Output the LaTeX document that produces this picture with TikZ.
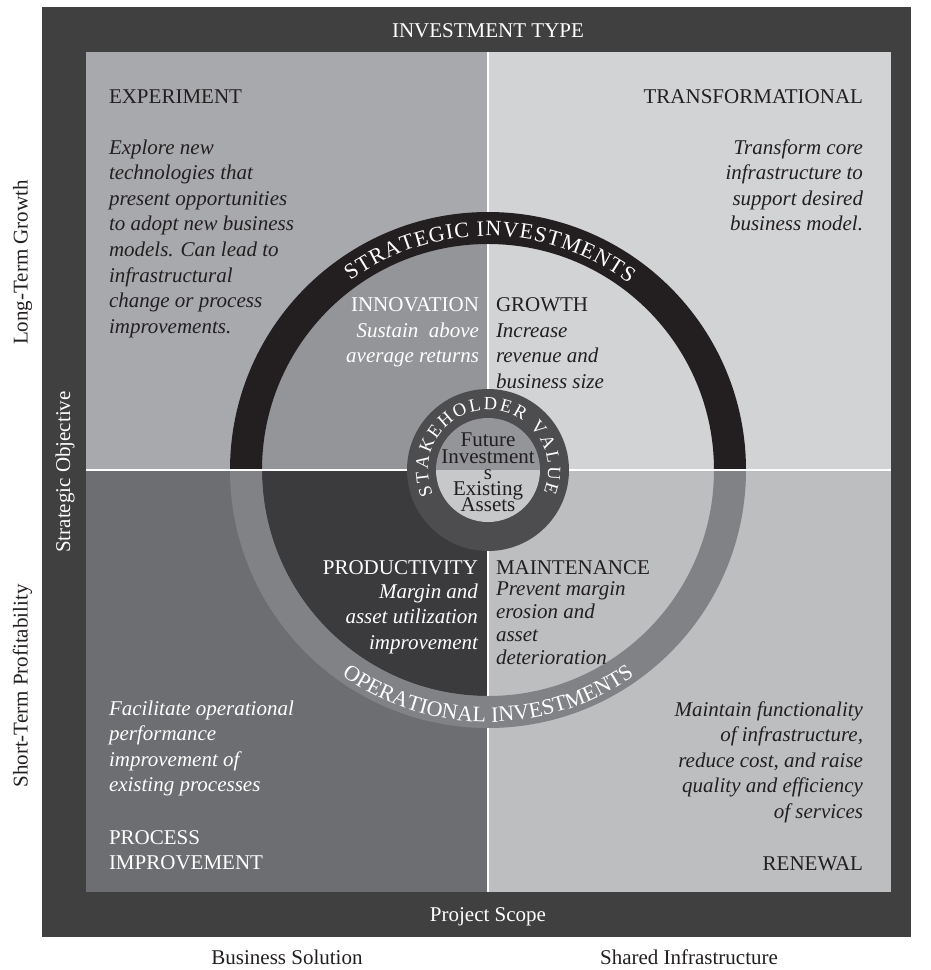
\documentclass[tikz,border=0pt]{standalone}
\usepackage{fontspec}
\setmainfont{Liberation Serif}
\usetikzlibrary{decorations.text}
\definecolor{frameC}{HTML}{404041}
\definecolor{expC}{HTML}{A7A9AC}
\definecolor{traC}{HTML}{D1D3D4}
\definecolor{proC}{HTML}{6D6E71}
\definecolor{renC}{HTML}{BCBEC0}
\definecolor{innC}{HTML}{939598}
\definecolor{groC}{HTML}{D1D3D4}
\definecolor{prdC}{HTML}{3B3B3D}
\definecolor{maiC}{HTML}{BCBEC0}
\definecolor{strC}{HTML}{231F20}
\definecolor{opsC}{HTML}{808285}
\definecolor{stkC}{HTML}{4D4D4F}
\definecolor{futC}{HTML}{939598}
\definecolor{exiC}{HTML}{C7C8CA}
\definecolor{inkC}{HTML}{231F20}
\newcommand\bodysize{\fontsize{21}{25.6}\selectfont}
\newcommand\ringA{\fontsize{22}{22}\selectfont}
\newcommand\ringB{\fontsize{18.5}{18.5}\selectfont}
\begin{document}
\begin{tikzpicture}[x=1pt, y=1pt,
  txt/.style={inner sep=0pt, outer sep=0pt, text=inkC, font=\bodysize},
  itx/.style={txt, font=\bodysize\itshape},
  wtx/.style={txt, text=white},
  witx/.style={itx, text=white},
  divider/.style={draw=white, line width=2.6pt}]
\useasboundingbox (0,0) rectangle (930,-970);
\fill[white] (0,0) rectangle (930,-970);
% frame
\fill[frameC] (42,-7) rectangle (911,-937);
% quadrants
\fill[expC] (86,-52) rectangle (488,-470);
\fill[traC] (488,-52) rectangle (891,-470);
\fill[proC] (86,-470) rectangle (488,-892);
\fill[renC] (488,-470) rectangle (891,-892);
\begin{scope}[shift={(488,-470)}]
  \fill[innC] (0,0) -- (180:226) arc[start angle=180, end angle=90, radius=226] -- cycle;
  \fill[groC] (0,0) -- (90:226) arc[start angle=90, end angle=0, radius=226] -- cycle;
  \fill[prdC] (0,0) -- (180:226) arc[start angle=180, end angle=270, radius=226] -- cycle;
  \fill[maiC] (0,0) -- (270:226) arc[start angle=270, end angle=360, radius=226] -- cycle;
  \fill[strC] (0:258) arc[start angle=0, end angle=180, radius=258] -- (180:226) arc[start angle=180, end angle=0, radius=226] -- cycle;
  \fill[opsC] (180:258) arc[start angle=180, end angle=360, radius=258] -- (0:226) arc[start angle=360, end angle=180, radius=226] -- cycle;
\end{scope}
% divider lines
\coordinate (v1) at (488,-52);  \coordinate (v2) at (488,-212);
\coordinate (v3) at (488,-244); \coordinate (v4) at (488,-389);
\coordinate (v5) at (488,-551); \coordinate (v6) at (488,-696);
\coordinate (v7) at (488,-728); \coordinate (v8) at (488,-892);
\coordinate (h1) at (86,-470);  \coordinate (h2) at (891,-470);
\draw[divider] (v1) -- (v2);
\draw[divider] (v3) -- (v4);
\draw[divider] (v5) -- (v6);
\draw[divider] (v7) -- (v8);
\draw[divider] (h1) -- (h2);
% stakeholder circle
\begin{scope}[shift={(488,-470)}]
  \fill[stkC] (0,0) circle[radius=81];
  \fill[futC] (180:52) arc[start angle=180, end angle=0, radius=52] -- cycle;
  \fill[exiC] (0:52) arc[start angle=0, end angle=-180, radius=52] -- cycle;
  \path[decorate, decoration={text along path, text={|\ringA|STRATEGIC INVESTMENTS}, text align={fit to path}, text color=white}]
    (126:234) arc[start angle=126, end angle=53, radius=234];
  \path[decorate, decoration={text along path, text={|\ringA|OPERATIONAL INVESTMENTS}, text align={fit to path}, text color=white}]
    (234.5:252) arc[start angle=234.5, end angle=305.5, radius=252];
  \path[decorate, decoration={text along path, text={|\ringB|STAKEHOLDER VALUE}, text align={fit to path}, text color=white}]
    (204:60) arc[start angle=204, end angle=-22, radius=60];
\end{scope}
% texts
\node[wtx, anchor=base] (invtype) at (488,-37) {INVESTMENT TYPE};
\node[txt, anchor=base west] (exp) at (109,-103) {EXPERIMENT};
\node[itx, anchor=north west, align=left] (expdesc) at (109,-136.1) {\strut Explore new\\technologies that\\present opportunities\\to adopt new business\\models. Can lead to\\infrastructural\\change or process\\improvements.};
\node[txt, anchor=base east] (tra) at (863,-103) {TRANSFORMATIONAL};
\node[itx, anchor=north east, align=right] (tradesc) at (863,-136.1) {\strut Transform core\\infrastructure to\\support desired\\business model.};
\node[witx, anchor=north west, align=left] (prodesc) at (109,-697.1) {\strut Facilitate operational\\performance\\improvement of\\existing processes};
\node[wtx, anchor=north west, align=left] (pro) at (109,-826.1) {\strut PROCESS\\IMPROVEMENT};
\node[itx, anchor=north east, align=right] (rendesc) at (863,-698.1) {\strut Maintain functionality\\of infrastructure,\\reduce cost, and raise\\quality and efficiency\\of services};
\node[txt, anchor=base east] (ren) at (863,-870) {RENEWAL};
\node[wtx, anchor=base east] (inn) at (479,-311) {INNOVATION};
\node[witx, anchor=north east, align=right] (inndesc) at (479,-319.1) {\strut Sustain\ \ above\\average returns};
\node[txt, anchor=base west] (gro) at (496,-311) {GROWTH};
\node[itx, anchor=north west, align=left] (grodesc) at (496,-319.1) {\strut Increase\\revenue and\\business size};
\node[wtx, anchor=base east] (prd) at (478,-574) {PRODUCTIVITY};
\node[witx, anchor=north east, align=right] (prddesc) at (478,-580.1) {\strut Margin and\\asset utilization\\improvement};
\node[txt, anchor=base west] (mai) at (496,-574) {MAINTENANCE};
\node[itx, font=\fontsize{21}{22.7}\selectfont\itshape, anchor=north west, align=left] (maidesc) at (496,-580.1) {\strut Prevent margin\\erosion and\\asset\\deterioration};
\node[txt, anchor=base] (fut1) at (488,-446) {Future};
\node[txt, anchor=base] (fut2) at (488,-463) {Investment};
\node[txt, anchor=base] (fut3) at (488,-479) {s};
\node[txt, anchor=base] (exi1) at (488,-495) {Existing};
\node[txt, anchor=base] (exi2) at (488,-511) {Assets};
\node[txt, rotate=90] (ltg) at (22.5,-262.5) {Long-Term Growth};
\node[txt, rotate=90] (stp) at (22.5,-686) {Short-Term Profitability};
\node[wtx, rotate=90] (sobj) at (65,-472) {Strategic Objective};
\node[wtx] (pscope) at (488,-917) {Project Scope};
\node[txt] (bsol) at (287,-957) {Business Solution};
\node[txt] (sinf) at (689,-957) {Shared Infrastructure};
\end{tikzpicture}
\end{document}
